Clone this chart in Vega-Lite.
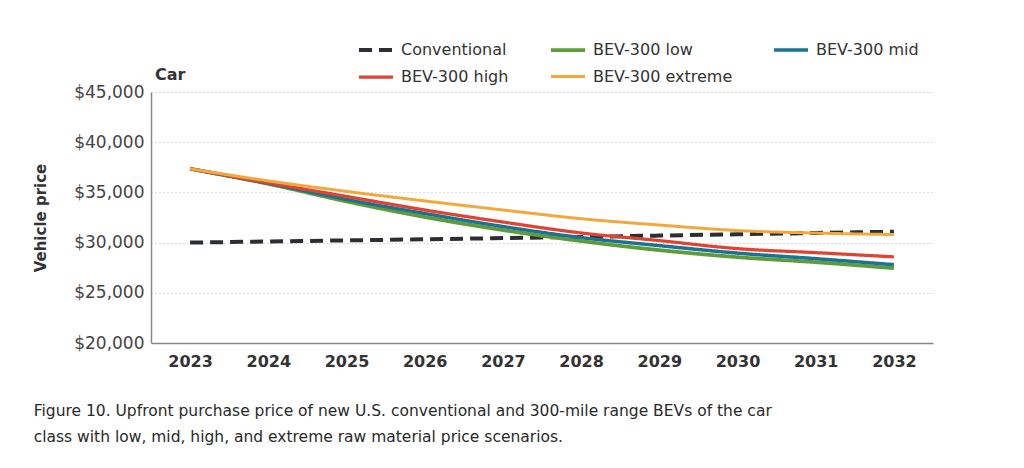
{
  "$schema": "https://vega.github.io/schema/vega-lite/v6.json",
  "padding": {"left": 33, "top": 31, "right": 5, "bottom": 5},
  "background": "white",
  "config": {
    "font": "DejaVu Sans",
    "view": {"stroke": null}
  },
  "title": {
    "text": ["Figure 10. Upfront purchase price of new U.S. conventional and 300-mile range BEVs of the car", "class with low, mid, high, and extreme raw material price scenarios."],
    "orient": "bottom", "anchor": "start", "frame": "bounds",
    "fontSize": 15.5, "fontWeight": "normal", "color": "#2a2a2a", "lineHeight": 26, "offset": 35
  },
  "vconcat": [
    {
      "width": 782,
      "height": 251,
      "title": {"text": "Car", "anchor": "start", "frame": "group", "fontSize": 16, "fontWeight": "bold", "color": "#333", "offset": 0, "dx": 4},
      "data": {
        "values": [
          {"year": "2023", "series": "Conventional", "price": 30000},
          {"year": "2024", "series": "Conventional", "price": 30110},
          {"year": "2025", "series": "Conventional", "price": 30220},
          {"year": "2026", "series": "Conventional", "price": 30330},
          {"year": "2027", "series": "Conventional", "price": 30450},
          {"year": "2028", "series": "Conventional", "price": 30570},
          {"year": "2029", "series": "Conventional", "price": 30700},
          {"year": "2030", "series": "Conventional", "price": 30830},
          {"year": "2031", "series": "Conventional", "price": 30960},
          {"year": "2032", "series": "Conventional", "price": 31080},
          {"year": "2023", "series": "BEV-300 low", "price": 37350},
          {"year": "2024", "series": "BEV-300 low", "price": 35850},
          {"year": "2025", "series": "BEV-300 low", "price": 34100},
          {"year": "2026", "series": "BEV-300 low", "price": 32550},
          {"year": "2027", "series": "BEV-300 low", "price": 31250},
          {"year": "2028", "series": "BEV-300 low", "price": 30150},
          {"year": "2029", "series": "BEV-300 low", "price": 29250},
          {"year": "2030", "series": "BEV-300 low", "price": 28550},
          {"year": "2031", "series": "BEV-300 low", "price": 28050},
          {"year": "2032", "series": "BEV-300 low", "price": 27450},
          {"year": "2023", "series": "BEV-300 mid", "price": 37350},
          {"year": "2024", "series": "BEV-300 mid", "price": 35900},
          {"year": "2025", "series": "BEV-300 mid", "price": 34300},
          {"year": "2026", "series": "BEV-300 mid", "price": 32900},
          {"year": "2027", "series": "BEV-300 mid", "price": 31600},
          {"year": "2028", "series": "BEV-300 mid", "price": 30500},
          {"year": "2029", "series": "BEV-300 mid", "price": 29700},
          {"year": "2030", "series": "BEV-300 mid", "price": 28950},
          {"year": "2031", "series": "BEV-300 mid", "price": 28400},
          {"year": "2032", "series": "BEV-300 mid", "price": 27800},
          {"year": "2023", "series": "BEV-300 high", "price": 37350},
          {"year": "2024", "series": "BEV-300 high", "price": 35950},
          {"year": "2025", "series": "BEV-300 high", "price": 34600},
          {"year": "2026", "series": "BEV-300 high", "price": 33250},
          {"year": "2027", "series": "BEV-300 high", "price": 32050},
          {"year": "2028", "series": "BEV-300 high", "price": 30960},
          {"year": "2029", "series": "BEV-300 high", "price": 30200},
          {"year": "2030", "series": "BEV-300 high", "price": 29400},
          {"year": "2031", "series": "BEV-300 high", "price": 29000},
          {"year": "2032", "series": "BEV-300 high", "price": 28580},
          {"year": "2023", "series": "BEV-300 extreme", "price": 37350},
          {"year": "2024", "series": "BEV-300 extreme", "price": 36150},
          {"year": "2025", "series": "BEV-300 extreme", "price": 35100},
          {"year": "2026", "series": "BEV-300 extreme", "price": 34150},
          {"year": "2027", "series": "BEV-300 extreme", "price": 33250},
          {"year": "2028", "series": "BEV-300 extreme", "price": 32380},
          {"year": "2029", "series": "BEV-300 extreme", "price": 31750},
          {"year": "2030", "series": "BEV-300 extreme", "price": 31200},
          {"year": "2031", "series": "BEV-300 extreme", "price": 30950},
          {"year": "2032", "series": "BEV-300 extreme", "price": 30800}
        ]
      },
      "mark": {"type": "line", "interpolate": "monotone"},
      "encoding": {
        "x": {
          "field": "year", "type": "ordinal",
          "scale": {"type": "point", "padding": 0.5},
          "axis": {"title": null, "labelAngle": 0, "labelFontSize": 16, "labelFontWeight": "bold", "labelColor": "#333", "ticks": false, "domainColor": "#888", "domainWidth": 1.5, "labelPadding": 10, "grid": false}
        },
        "y": {
          "field": "price", "type": "quantitative",
          "scale": {"domain": [20000, 45000], "nice": false, "zero": false},
          "axis": {"values": [20000, 25000, 30000, 35000, 40000, 45000], "format": "$,.0f", "title": "Vehicle price", "titleFontSize": 15, "titleFontWeight": "bold", "titleColor": "#333", "titlePadding": 25, "labelFontSize": 17, "labelColor": "#444", "ticks": false, "labelPadding": 7, "domainColor": "#888", "domainWidth": 1.5, "gridDash": [1, 3], "gridColor": "#bbb", "gridWidth": 1}
        },
        "color": {
          "field": "series", "type": "nominal",
          "scale": {"domain": ["Conventional", "BEV-300 low", "BEV-300 mid", "BEV-300 high", "BEV-300 extreme"], "range": ["#2b2f33", "#5f9b3a", "#1b7391", "#e0432f", "#f2a93b"]},
          "legend": {"orient": "none", "legendX": 206, "legendY": -61, "columns": 3, "direction": "horizontal", "title": null, "symbolType": "stroke", "symbolSize": 1156, "symbolStrokeWidth": 3, "labelFontSize": 16, "labelColor": "#333", "labelOffset": 6, "columnPadding": 34, "rowPadding": -7, "padding": 0}
        },
        "strokeDash": {
          "field": "series", "type": "nominal",
          "scale": {"domain": ["Conventional", "BEV-300 low", "BEV-300 mid", "BEV-300 high", "BEV-300 extreme"], "range": [[13, 7], [1, 0], [1, 0], [1, 0], [1, 0]]},
          "legend": {"orient": "none", "legendX": 206, "legendY": -61, "columns": 3, "direction": "horizontal", "title": null, "symbolType": "stroke", "symbolSize": 1156, "symbolStrokeWidth": 3, "labelFontSize": 16, "labelColor": "#333", "labelOffset": 6, "columnPadding": 34, "rowPadding": -7, "padding": 0}
        },
        "strokeWidth": {
          "field": "series", "type": "nominal",
          "scale": {"domain": ["Conventional", "BEV-300 low", "BEV-300 mid", "BEV-300 high", "BEV-300 extreme"], "range": [4, 3, 3, 3, 3]},
          "legend": null
        }
      }
    }
  ]
}
